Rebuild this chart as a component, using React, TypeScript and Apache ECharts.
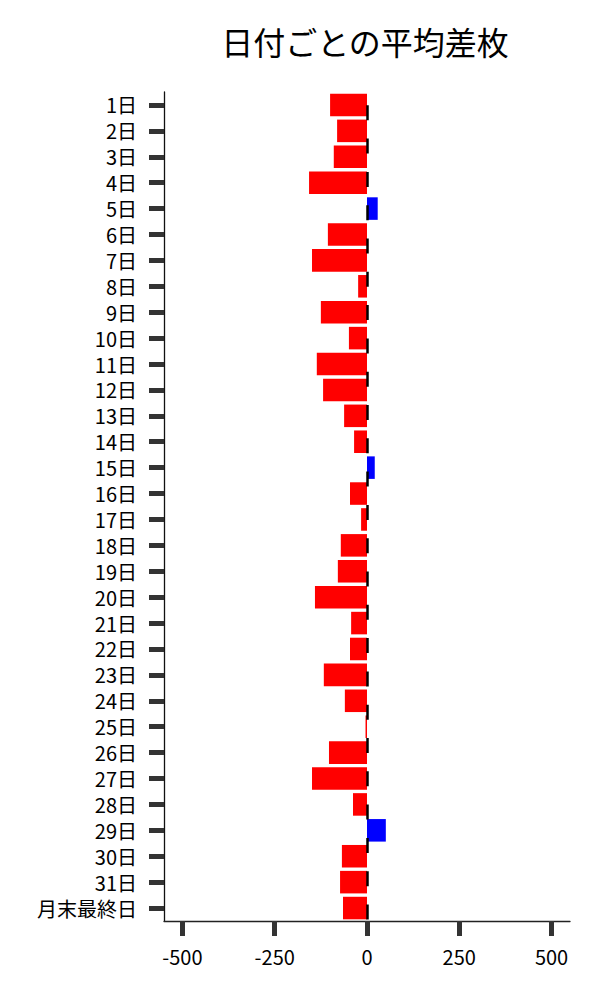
import React, { useEffect, useRef } from "react";
import * as echarts from "echarts";

const categories = [
  "1日", "2日", "3日", "4日", "5日", "6日", "7日", "8日", "9日", "10日",
  "11日", "12日", "13日", "14日", "15日", "16日", "17日", "18日", "19日", "20日",
  "21日", "22日", "23日", "24日", "25日", "26日", "27日", "28日", "29日", "30日",
  "31日", "月末最終日",
];
const avgDiff = [
  -100, -81, -90, -157, 29, -106, -149, -24, -125, -49,
  -136, -119, -62, -35, 21, -46, -16, -71, -79, -141,
  -43, -46, -117, -60, -4, -103, -149, -38, 51, -68,
  -73, -65,
];
const xTicks = [-500, -250, 0, 250, 500];
const titleText = "日付ごとの平均差枚";

const FONT = "'Noto Sans CJK JP', 'Noto Sans', sans-serif";

export default function App() {
  const ref = useRef<HTMLDivElement>(null);
  useEffect(() => {
    document.body.style.margin = "0";
    const chart = echarts.init(ref.current!, null, { renderer: "svg" });
    chart.setOption({
      animation: false,
      backgroundColor: "#fff",
      graphic: [
        {
          type: "text",
          x: 365,
          y: 25,
          style: {
            text: titleText,
            fontSize: 32,
            fontFamily: FONT,
            fill: "#000",
            textAlign: "center",
            textVerticalAlign: "top",
          },
        },
      ],
      grid: { left: 164, right: 30, top: 92, bottom: 79 },
      xAxis: {
        type: "value",
        min: -550,
        max: 550,
        splitLine: { show: false },
        axisLine: { show: true, onZero: false, lineStyle: { color: "#222", width: 1.3 } },
        axisTick: {
          show: true,
          customValues: xTicks,
          length: 15,
          lineStyle: { color: "#333", width: 5 },
        },
        axisLabel: {
          customValues: xTicks,
          fontSize: 20,
          fontFamily: FONT,
          color: "#000",
          margin: 25,
        },
      },
      yAxis: {
        type: "category",
        inverse: true,
        data: categories,
        axisLine: { show: true, onZero: false, lineStyle: { color: "#111", width: 1.3 } },
        axisTick: {
          show: true,
          alignWithLabel: true,
          interval: 0,
          length: 15,
          lineStyle: { color: "#333", width: 5 },
        },
        axisLabel: {
          interval: 0,
          fontSize: 20,
          lineHeight: 20,
          fontFamily: FONT,
          color: "#000",
          margin: 27,
        },
        splitLine: { show: false },
      },
      series: [
        {
          type: "bar",
          data: avgDiff,
          barCategoryGap: "13%",
          itemStyle: {
            color: (p: any) => (p.value < 0 ? "#ff0000" : "#0000ff"),
          },
          markLine: {
            silent: true,
            symbol: "none",
            label: { show: false },
            lineStyle: { color: "#000", width: 2.5, type: [15, 18.3], dashOffset: 20.3 },
            data: [{ xAxis: 0 }],
          },
        },
      ],
    });
    return () => chart.dispose();
  }, []);
  return <div ref={ref} style={{ width: 600, height: 1000 }} />;
}
